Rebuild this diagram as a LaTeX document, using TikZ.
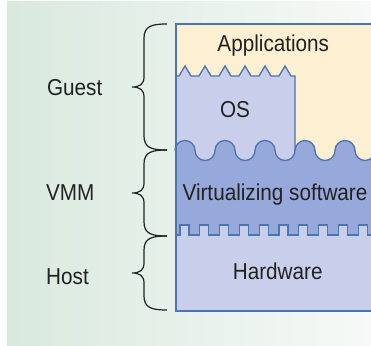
\documentclass[tikz,border=0pt]{standalone}
\usepackage{fontspec}
\setmainfont{Liberation Sans}[FakeStretch=0.9]
\definecolor{bgleft}{RGB}{217,233,222}
\definecolor{bgright}{RGB}{246,249,247}
\definecolor{appfill}{RGB}{253,239,210}
\definecolor{osfill}{RGB}{201,207,234}
\definecolor{vmmfill}{RGB}{151,168,218}
\definecolor{edge}{RGB}{74,117,174}
\definecolor{ink}{RGB}{34,34,34}

% curly brace between heights #1 (top) and #2 (bottom), tip pointing left
\newcommand\layerbrace[2]{%
  \draw[bracestyle] (167,#1) .. controls (152,#1) and (144,{#1-2}) .. (144,{#1-14})
    -- (144,{(#1+#2)/2+10}) .. controls (144,{(#1+#2)/2+3}) and (140,{(#1+#2)/2}) .. (132,{(#1+#2)/2})
    .. controls (140,{(#1+#2)/2}) and (144,{(#1+#2)/2-3}) .. (144,{(#1+#2)/2-10})
    -- (144,{#2+14}) .. controls (144,{#2+2}) and (152,#2) .. (167,#2);}

\begin{document}
\begin{tikzpicture}[x=1pt,y=1pt,
  layer/.style={draw=edge, line width=1.3pt},
  txt/.style={font=\fontsize{23}{25}\selectfont, text=ink, anchor=base, inner sep=0pt},
  bracestyle/.style={draw=ink, line width=1.2pt}]
\useasboundingbox (0,0) rectangle (371,345);
\shade[left color=bgleft, right color=bgright] (7,0) rectangle (371,343);

\begin{scope}
  \clip (0,0) rectangle (371,345);
  % applications layer
  \fill[appfill] (176,175) rectangle (390,321);
  % guest OS with toothed top
  \fill[osfill] (176,180) -- (176,269)
    \foreach \k in {0,...,5} { -- ({179+20*\k},269) -- ({185+20*\k},279) -- ({191+20*\k},269) }
    -- (295,269) -- (295,180) -- cycle;
  \draw[layer] (176,269)
    \foreach \k in {0,...,5} { -- ({179+20*\k},269) -- ({185+20*\k},279) -- ({191+20*\k},269) }
    -- (295,269) -- (295,185);
  % virtualizing software with wavy top
  \fill[vmmfill] (175,194.5)
    \foreach \k in {0,...,5} { arc[start angle=180, end angle=0, radius=10]
                               arc[start angle=180, end angle=360, radius=10] }
    -- (415,100) -- (175,100) -- cycle;
  \draw[layer] (175,194.5)
    \foreach \k in {0,...,5} { arc[start angle=180, end angle=0, radius=10]
                               arc[start angle=180, end angle=360, radius=10] };
  % hardware with square-toothed top
  \fill[osfill] (176,110)
    \foreach \k in {0,...,10} { -- ({180+19.8*\k},110) -- ({180+19.8*\k},120)
                                -- ({189+19.8*\k},120) -- ({189+19.8*\k},110) }
    -- (400,110) -- (400,34) -- (176,34) -- cycle;
  \draw[layer] (176,110)
    \foreach \k in {0,...,10} { -- ({180+19.8*\k},110) -- ({180+19.8*\k},120)
                                -- ({189+19.8*\k},120) -- ({189+19.8*\k},110) }
    -- (400,110);
  % outer frame
  \draw[layer] (390,321) -- (176,321) -- (176,34) -- (390,34);
\end{scope}

\node[txt] (apps) at (273.3,293) {Applications};
\node[txt] (os) at (235,227.7) {OS};
\node[txt] (vsw) at (275,144) {Virtualizing software};
\node[txt] (hw) at (277.7,66) {Hardware};

\node[txt] (guest) at (74.7,249) {Guest};
\node[txt] (vmm) at (70.3,144) {VMM};
\node[txt] (host) at (67.5,61) {Host};

\layerbrace{321}{195}
\layerbrace{195}{109}
\layerbrace{109}{35}
\end{tikzpicture}
\end{document}
